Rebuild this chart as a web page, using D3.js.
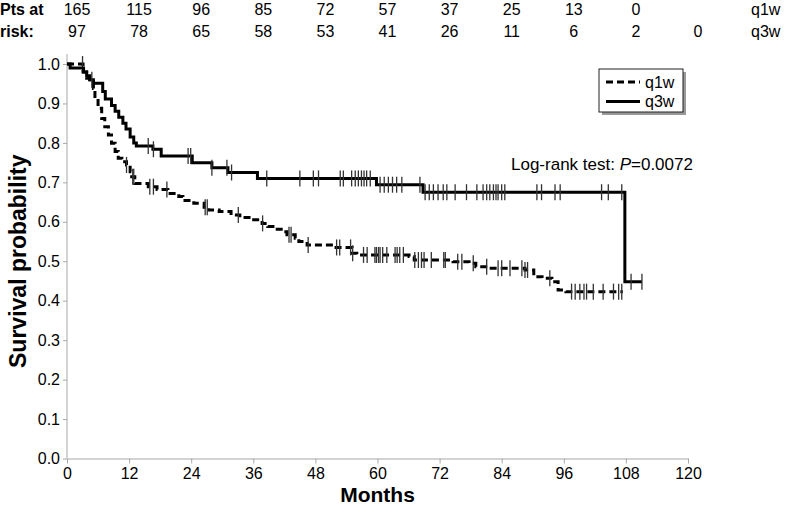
<!DOCTYPE html>
<html>
<head>
<meta charset="utf-8">
<script src="https://cdn.jsdelivr.net/npm/d3@7"></script>
<style>
  html, body { margin: 0; padding: 0; background: #fff; }
  svg { display: block; font-family: "Liberation Sans", Arial, sans-serif; }
</style>
</head>
<body>
<svg id="chart" width="797" height="506"></svg>
<script>
// ---------------- DATA ----------------
const monthTicks = [0, 12, 24, 36, 48, 60, 72, 84, 96, 108, 120];
const survTicks = [0, 0.1, 0.2, 0.3, 0.4, 0.5, 0.6, 0.7, 0.8, 0.9, 1.0];

const q1wAtRisk = [165, 115, 96, 85, 72, 57, 37, 25, 13, 0];
const q3wAtRisk = [97, 78, 65, 58, 53, 41, 26, 11, 6, 2, 0];

// Kaplan-Meier steps: [month, survival]
const q1wSteps = [
  [0, 1.0], [3.1, 0.98], [3.8, 0.964], [4.4, 0.955], [5.1, 0.938], [5.4, 0.913],
  [6.0, 0.888], [6.7, 0.862], [7.3, 0.841], [8.0, 0.82], [8.6, 0.799], [9.3, 0.778],
  [9.9, 0.761], [10.6, 0.752], [11.5, 0.744], [12.2, 0.727], [12.5, 0.714], [13.1, 0.697],
  [15.7, 0.689], [17.4, 0.682], [19.5, 0.672], [21.6, 0.664], [22.4, 0.654], [24.5, 0.647],
  [26.5, 0.637], [27.4, 0.63], [29.4, 0.626], [31.7, 0.617], [33.4, 0.611], [35.7, 0.605],
  [37.7, 0.596], [38.8, 0.588], [40.2, 0.581], [41.9, 0.575], [42.5, 0.567], [44.1, 0.558],
  [44.8, 0.55], [46.4, 0.541], [51.4, 0.535], [55.1, 0.52], [56.0, 0.516], [66.1, 0.512],
  [67.1, 0.503], [74.6, 0.499], [77.7, 0.495], [79.0, 0.486], [81.5, 0.482], [88.5, 0.478],
  [90.2, 0.461], [91.8, 0.457], [93.7, 0.448], [94.9, 0.427], [96.4, 0.423]
];
const q1wEnd = 107.4;
const q1wCensor = [
  3.0, 11.5, 12.7, 12.9, 16.0, 16.7, 19.3, 26.7, 27.1, 33.1, 37.8, 42.9, 43.3, 46.6,
  52.1, 52.7, 54.8, 55.2, 57.3, 58.0, 59.5, 59.8, 60.2, 60.5, 61.0, 61.8, 63.4, 63.8,
  64.3, 65.0, 67.2, 67.9, 68.5, 69.0, 70.4, 72.8, 73.1, 75.5, 76.3, 78.5, 81.1, 83.3,
  84.0, 85.6, 87.9, 88.5, 89.0, 93.3, 97.5, 98.2, 99.1, 99.9, 100.4, 101.7, 103.6,
  105.6, 106.6, 107.2
];

const q3wSteps = [
  [0, 1.0], [0.6, 0.99], [3.2, 0.98], [3.8, 0.97], [4.4, 0.96], [5.1, 0.951],
  [6.9, 0.93], [7.4, 0.911], [8.6, 0.895], [9.3, 0.88], [10.0, 0.865], [10.8, 0.85],
  [11.4, 0.835], [12.2, 0.815], [12.9, 0.80], [13.4, 0.792], [16.6, 0.784], [18.2, 0.767],
  [24.2, 0.75], [28.0, 0.737], [31.1, 0.725], [36.8, 0.71], [59.8, 0.694], [68.8, 0.675],
  [107.8, 0.448]
];
const q3wEnd = 111.1;
const q3wCensor = [
  4.8, 15.7, 16.7, 23.4, 23.9, 28.0, 30.9, 31.8, 38.6, 45.0, 47.6, 48.6, 52.8, 53.4,
  55.0, 55.7, 56.3, 56.9, 57.4, 57.9, 58.6, 60.5, 61.3, 62.1, 62.9, 63.7, 64.7, 68.2,
  69.2, 70.0, 70.8, 71.7, 72.7, 73.4, 75.0, 77.2, 79.2, 80.4, 81.1, 81.7, 82.4, 82.9,
  83.3, 84.0, 84.6, 90.8, 91.7, 94.3, 95.3, 103.3, 104.6, 107.2, 109.0, 111.1
];

// ---------------- CHART ----------------
const svg = d3.select("#chart");
const x = d3.scaleLinear().domain([0, 120]).range([67, 688]);
const y = d3.scaleLinear().domain([0, 1]).range([458.5, 64]);
const axisColor = "#a8a8a8";
const fontFam = "'Liberation Sans', Arial, sans-serif";

// Y axis
const yAxis = svg.append("g")
  .attr("transform", `translate(${x(0)},0)`)
  .call(d3.axisLeft(y).tickValues(survTicks).tickFormat(d3.format(".1f")).tickSize(4).tickSizeOuter(0));
yAxis.select(".domain").remove();
yAxis.selectAll(".tick line").attr("stroke", axisColor);
yAxis.selectAll(".tick text").attr("font-size", 16).attr("fill", "#000")
  .attr("font-family", fontFam).attr("x", -7);
svg.append("line").attr("x1", x(0)).attr("x2", x(0)).attr("y1", 54).attr("y2", y(0))
  .attr("stroke", axisColor).attr("stroke-width", 1);

// X axis
const xAxis = svg.append("g")
  .attr("transform", `translate(0,${y(0)})`)
  .call(d3.axisBottom(x).tickValues(monthTicks).tickSize(5).tickSizeOuter(0));
xAxis.select(".domain").attr("stroke", axisColor);
xAxis.selectAll(".tick line").attr("stroke", axisColor);
xAxis.selectAll(".tick text").attr("font-size", 16).attr("fill", "#000")
  .attr("font-family", fontFam).attr("dy", "0.75em");

// Axis titles
svg.append("text").attr("x", x(60)).attr("y", 502).attr("text-anchor", "middle")
  .attr("font-weight", "bold").attr("font-size", 21).text("Months");
svg.append("text").attr("transform", `translate(26,${(y(0) + y(1)) / 2}) rotate(-90)`)
  .attr("text-anchor", "middle").attr("font-weight", "bold").attr("font-size", 23)
  .text("Survival probability");

// KM curves
function survAt(steps, t) {
  let s = steps[0][1];
  for (const [m, v] of steps) { if (m <= t + 1e-9) s = v; else break; }
  return s;
}
const line = d3.line().x(d => x(d[0])).y(d => y(d[1])).curve(d3.curveStepAfter);

function drawCurve(steps, end, censor, dash) {
  const pts = steps.concat([[end, steps[steps.length - 1][1]]]);
  svg.append("path").datum(pts).attr("d", line).attr("fill", "none")
    .attr("stroke", "#000").attr("stroke-width", 3)
    .attr("stroke-dasharray", dash || null);
  svg.append("g").selectAll("line").data(censor).join("line")
    .attr("x1", d => x(d)).attr("x2", d => x(d))
    .attr("y1", d => y(survAt(steps, d)) - 8).attr("y2", d => y(survAt(steps, d)) + 8)
    .attr("stroke", "#333").attr("stroke-width", 1.3);
}
drawCurve(q1wSteps, q1wEnd, q1wCensor, "7,4");
drawCurve(q3wSteps, q3wEnd, q3wCensor, null);

// Legend
const lg = svg.append("g");
lg.append("rect").attr("x", 602).attr("y", 72).attr("width", 84).attr("height", 43).attr("fill", "#999");
lg.append("rect").attr("x", 599).attr("y", 69).attr("width", 84).attr("height", 43)
  .attr("fill", "#fff").attr("stroke", "#222").attr("stroke-width", 1);
lg.append("line").attr("x1", 606).attr("x2", 640).attr("y1", 82).attr("y2", 82)
  .attr("stroke", "#000").attr("stroke-width", 3).attr("stroke-dasharray", "7,4");
lg.append("line").attr("x1", 606).attr("x2", 640).attr("y1", 101.5).attr("y2", 101.5)
  .attr("stroke", "#000").attr("stroke-width", 3);
lg.append("text").attr("x", 645).attr("y", 87.5).attr("font-size", 16).text("q1w");
lg.append("text").attr("x", 645).attr("y", 107).attr("font-size", 16).text("q3w");

// Log-rank annotation
const lr = svg.append("text").attr("x", 511).attr("y", 170).attr("font-size", 17);
lr.append("tspan").text("Log-rank test: ");
lr.append("tspan").attr("font-style", "italic").text("P");
lr.append("tspan").text("=0.0072");

// Risk table
svg.append("text").attr("x", 0).attr("y", 15).attr("font-size", 16).attr("font-weight", "bold").text("Pts at");
svg.append("text").attr("x", 0).attr("y", 37).attr("font-size", 16).attr("font-weight", "bold").text("risk:");
svg.append("g").selectAll("text").data(q1wAtRisk).join("text")
  .attr("x", (d, i) => x(monthTicks[i]) + 10).attr("y", 15).attr("text-anchor", "middle")
  .attr("font-size", 16).text(d => d);
svg.append("g").selectAll("text").data(q3wAtRisk).join("text")
  .attr("x", (d, i) => x(monthTicks[i]) + 10).attr("y", 37).attr("text-anchor", "middle")
  .attr("font-size", 16).text(d => d);
svg.append("text").attr("x", 751).attr("y", 15).attr("font-size", 16).text("q1w");
svg.append("text").attr("x", 751).attr("y", 37).attr("font-size", 16).text("q3w");
</script>
</body>
</html>
